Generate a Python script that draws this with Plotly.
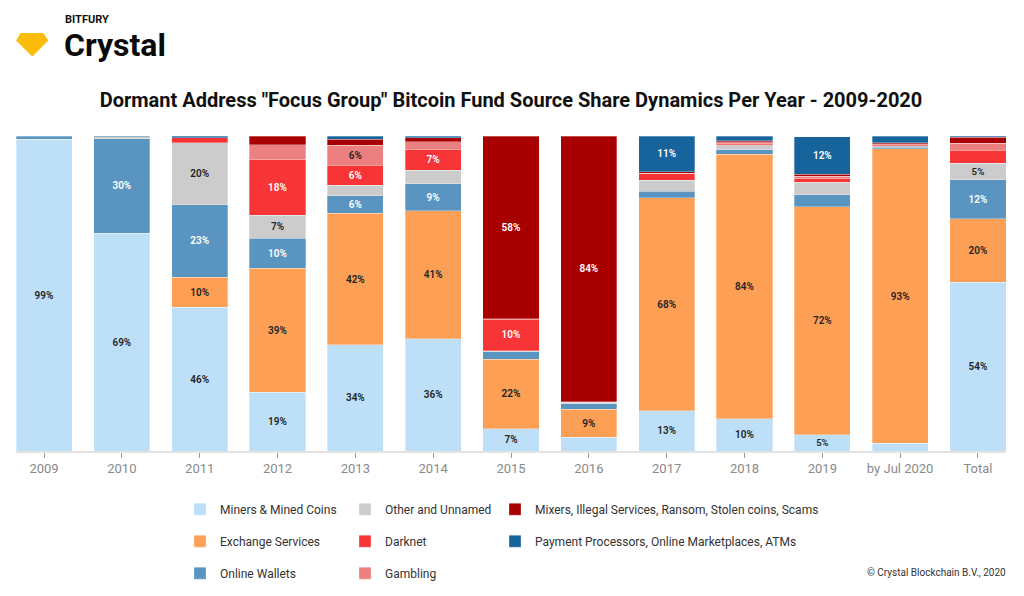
import plotly.graph_objects as go

# bar categories
years = ["2009", "2010", "2011", "2012", "2013", "2014", "2015", "2016",
         "2017", "2018", "2019", "by Jul 2020", "Total"]

# share of fund sources per year, %, bottom to top of the stack
miners   = [99.0, 69.2, 45.6, 18.6, 33.8, 35.6, 7.0, 4.3, 12.8, 10.2, 5.2, 2.5, 53.6]
exchange = [0, 0, 9.6, 39.4, 41.6, 40.6, 22.2, 8.9, 67.6, 84.0, 72.4, 93.4, 20.2]
wallets  = [1.0, 30.0, 23.0, 9.6, 5.6, 8.7, 2.3, 1.8, 2.1, 1.4, 3.7, 0.5, 12.3]
other    = [0, 0.5, 19.6, 7.3, 3.3, 4.2, 0.4, 0.4, 3.4, 1.6, 4.0, 0.5, 5.3]
darknet  = [0, 0, 1.6, 17.6, 6.4, 6.6, 9.9, 0.3, 2.1, 0.3, 1.1, 0.3, 4.0]
gambling = [0, 0, 0, 4.8, 6.4, 2.5, 0.2, 0, 0.2, 0.7, 0.8, 0.3, 2.3]
mixers   = [0, 0, 0, 2.7, 1.9, 1.2, 58.0, 84.3, 0.4, 0.3, 0.7, 0.3, 1.9]
payment  = [0, 0.3, 0.6, 0, 1.0, 0.6, 0, 0, 11.4, 1.5, 11.9, 2.2, 0.4]

# name, values, colour, label colour, legend, rank within legend
series = [
    ("Miners & Mined Coins", miners, "#bde0f8", "#222222", "legend", 1),
    ("Exchange Services", exchange, "#fda055", "#222222", "legend", 2),
    ("Online Wallets", wallets, "#5a94c0", "#ffffff", "legend", 3),
    ("Other and Unnamed", other, "#cccccc", "#222222", "legend2", 1),
    ("Darknet", darknet, "#f83536", "#ffffff", "legend2", 2),
    ("Gambling", gambling, "#ec7f7f", "#222222", "legend2", 3),
    ("Mixers, Illegal Services, Ransom, Stolen coins, Scams", mixers, "#a80000", "#ffffff", "legend3", 1),
    ("Payment Processors, Online Marketplaces, ATMs", payment, "#17649c", "#ffffff", "legend3", 2),
]

# the page body has an 8px margin, so the figure is drawn 8px smaller
OFF = 8
W, H = 1024 - OFF, 596 - OFF
# plot area in page pixels, used to place the decorations
L, R, T, B = 16, 1006, 136, 453


def px(x, y):
    return (x - L) / (R - L), (B - y) / (B - T)


fig = go.Figure()
for name, vals, col, tcol, leg, rank in series:
    ys = [v if v > 0 else None for v in vals]
    txt = ["%d%%" % round(v) if v >= 5 else "" for v in vals]
    fig.add_trace(go.Bar(
        x=years, y=ys, name=name, text=txt,
        marker=dict(color=col, line=dict(color="rgba(255,255,255,0.5)", width=0.6)),
        textposition="inside", insidetextanchor="middle", textangle=0,
        textfont=dict(size=10, color=tcol, family="Roboto", weight=600),
        legend=leg, legendgroup=name, legendrank=rank,
        hovertemplate="%{x}: %{y:.1f}%<extra>" + name + "</extra>",
    ))

# logo gem
gem = [(16, 40), (20.7, 32.3), (43.3, 32.3), (48.3, 40), (32.3, 56)]
path = "M " + " L ".join("%.5f,%.5f" % px(a, b) for a, b in gem) + " Z"

leg_style = dict(orientation="v", yanchor="top", traceorder="grouped",
                 tracegroupgap=13, font=dict(size=12, color="#333333", family="Roboto"),
                 bgcolor="rgba(0,0,0,0)", itemclick=False, itemdoubleclick=False)

fig.update_layout(
    width=W, height=H,
    margin=dict(l=L - OFF, r=1024 - R, t=T - OFF, b=596 - B),
    barmode="stack", bargap=0.28,
    plot_bgcolor="white", paper_bgcolor="white",
    font=dict(family="Roboto", color="#222222"),
    title=dict(text="<b>Dormant Address \"Focus Group\" Bitcoin Fund Source Share Dynamics Per Year - 2009-2020</b>",
               x=0.5, xref="paper", y=1 - (100 - OFF) / H, yref="container", yanchor="middle",
               font=dict(size=20, color="#111111", family="Roboto")),
    xaxis=dict(range=[-0.36, 12.36], showline=True, linecolor="#e3e3e3", linewidth=1.5,
               ticks="outside", ticklen=5, tickcolor="#999999",
               tickfont=dict(size=13, color="#8a8a8a", family="Roboto"), fixedrange=True),
    yaxis=dict(range=[0, 100], visible=False, fixedrange=True),
    legend=dict(x=px(180, 0)[0], y=px(0, 497)[1], **leg_style),
    legend2=dict(x=px(345, 0)[0], y=px(0, 497)[1], **leg_style),
    legend3=dict(x=px(495, 0)[0], y=px(0, 497)[1], **leg_style),
    shapes=[dict(type="path", path=path, xref="paper", yref="paper",
                 fillcolor="#fcbd0a", line=dict(width=0))],
    annotations=[
        dict(text="<b>BITFURY</b>", x=px(63, 0)[0], y=px(0, 19)[1], xref="paper", yref="paper",
             xanchor="left", yanchor="middle", showarrow=False,
             font=dict(size=11, color="#111111", family="Roboto")),
        dict(text="<b>Crystal</b>", x=px(62, 0)[0], y=px(0, 44)[1], xref="paper", yref="paper",
             xanchor="left", yanchor="middle", showarrow=False,
             font=dict(size=32, color="#0a0a0a", family="Roboto")),
        dict(text="© Crystal Blockchain B.V., 2020", x=px(1008, 0)[0], y=px(0, 575)[1],
             xref="paper", yref="paper", xanchor="right", yanchor="middle", showarrow=False,
             font=dict(size=10, color="#333333", family="Roboto")),
    ],
)

fig.write_html("out.html")
